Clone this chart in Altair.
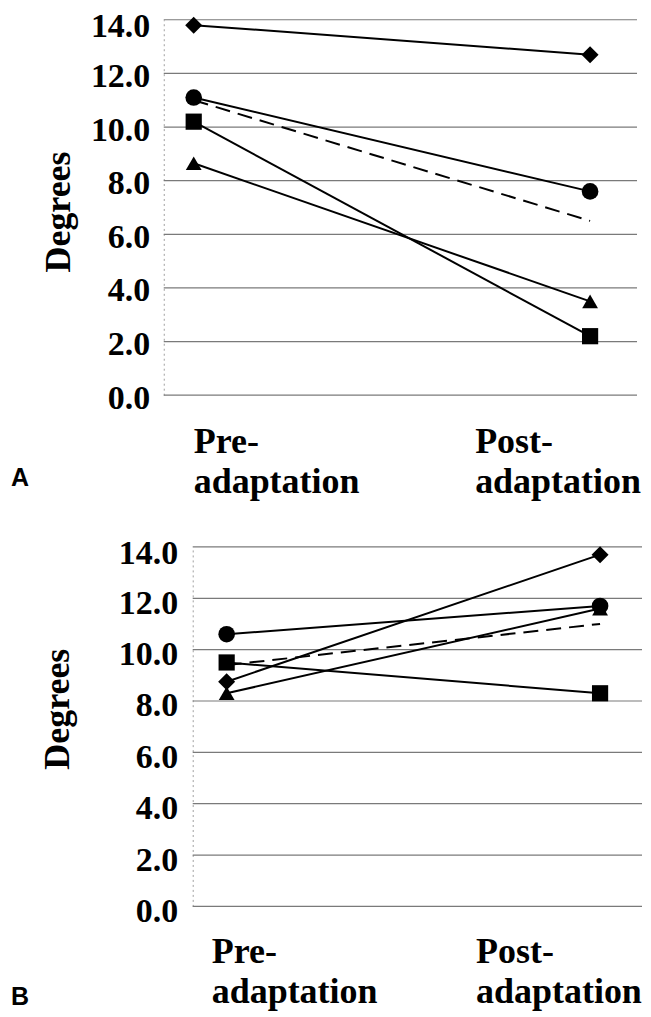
import altair as alt
import pandas as pd

# ---- data ----
series = ["diamond", "circle", "square", "triangle", "mean"]
marker_shapes = ["diamond", "circle", "square", "triangle-up"]
marker_sizes = [290, 250, 272, 300]
phases = [0, 1]  # 0 = pre-adaptation, 1 = post-adaptation
categories = ["Pre-\nadaptation", "Post-\nadaptation"]
y_ticks = [0, 2, 4, 6, 8, 10, 12, 14]

a_pre = [13.8, 11.1, 10.2, 8.65, 11.0]
a_post = [12.7, 7.6, 2.2, 3.5, 6.5]
b_pre = [8.75, 10.6, 9.5, 8.3, 9.4]
b_post = [13.7, 11.7, 8.3, 11.6, 11.0]

# label anchor positions along the x scale (left edge of each category label)
a_label_x = [0.0, 0.71]
b_label_x = [-0.04, 0.668]

SERIF = "Liberation Serif"
SANS = "Liberation Sans"
GRID = "#7a7a7a"


def long_table(pre, post):
    rows = []
    for s, v0, v1 in zip(series, pre, post):
        rows.append({"series": s, "phase": phases[0], "value": v0, "mean": s == "mean"})
        rows.append({"series": s, "phase": phases[1], "value": v1, "mean": s == "mean"})
    return pd.DataFrame(rows)


def panel(pre, post, label_x, letter, width, height, lead, unit_px, axis_shift,
          label_pad, label_off, title_pad, title_y, letter_x, label_y, letter_y):
    df = long_table(pre, post)
    # x domain chosen so that pre/post sit 'lead' px from the left, 'unit_px' apart
    xs = alt.Scale(domain=[-lead / unit_px, (width - lead) / unit_px], nice=False, zero=False)
    ys = alt.Scale(domain=[0, 14], nice=False, zero=True)
    yaxis = alt.Axis(
        values=y_ticks, format=".1f", grid=False, offset=-axis_shift,
        domain=True, domainColor="#a0a0a0", domainDash=[2, 3], domainWidth=1,
        ticks=False, labelFont=SERIF, labelFontWeight="bold", labelFontSize=34,
        labelColor="black", labelPadding=label_pad,
        labelOffset={"condition": {"test": "datum.value == 14", "value": 7}, "value": label_off},
        title="Degrees", titleFont=SERIF, titleFontWeight="bold", titleFontSize=36,
        titleColor="black", titlePadding=title_pad, titleY=title_y,
    )
    base = alt.Chart(df)
    x = alt.X("phase:Q", scale=xs, axis=None)
    y = alt.Y("value:Q", scale=ys, axis=yaxis)

    grid_df = pd.DataFrame({"tick": y_ticks})
    grid = alt.Chart(grid_df).mark_rule(color=GRID, strokeWidth=1.2).encode(
        y=alt.Y("tick:Q", scale=ys, axis=yaxis),
        x=alt.value(axis_shift), x2=alt.value(width),
    )
    solid = base.transform_filter("!datum.mean").mark_line(
        color="black", strokeWidth=2).encode(x=x, y=y, detail="series:N")
    dashed = base.transform_filter("datum.mean").mark_line(
        color="black", strokeWidth=2, strokeDash=[15, 8]).encode(x=x, y=y)
    points = base.transform_filter("!datum.mean").mark_point(
        filled=True, color="black", opacity=1).encode(
        x=x, y=y,
        shape=alt.Shape("series:N", scale=alt.Scale(domain=series[:4], range=marker_shapes),
                        legend=None),
        size=alt.Size("series:N", scale=alt.Scale(domain=series[:4], range=marker_sizes),
                      legend=None),
    )
    lab_df = pd.DataFrame({"pos": label_x, "text": categories})
    labels = alt.Chart(lab_df).mark_text(
        align="left", baseline="alphabetic", font=SERIF, fontWeight="bold",
        fontSize=36, lineHeight=40, color="black", lineBreak="\n",
    ).encode(x=alt.X("pos:Q", scale=xs, axis=None), y=alt.value(label_y), text="text:N")
    let_df = pd.DataFrame({"text": [letter]})
    let_mark = alt.Chart(let_df).mark_text(
        align="left", baseline="alphabetic", font=SANS, fontWeight="bold",
        fontSize=25, color="black",
    ).encode(x=alt.value(letter_x), y=alt.value(letter_y), text="text:N")

    return alt.layer(grid, solid, dashed, points, labels, let_mark).properties(
        width=width, height=height)


panel_a = panel(a_pre, a_post, a_label_x, "A", 474, 376, lead=30, unit_px=397, axis_shift=0,
                label_pad=14, label_off=3, title_pad=13, title_y=192,
                letter_x=-153, label_y=433.5, letter_y=467)
panel_b = panel(b_pre, b_post, b_label_x, "B", 479, 360, lead=63, unit_px=374, axis_shift=29,
                label_pad=15, label_off=5, title_pad=42, title_y=162,
                letter_x=-153, label_y=416.5, letter_y=459)

chart = alt.vconcat(panel_a, panel_b, spacing=37).properties(
    padding={"left": 3, "top": 1, "right": 0, "bottom": 0},
    background="white",
).configure_view(stroke=None).resolve_scale(x="independent", y="independent")

chart.save("out.html", embed_options={"renderer": "svg", "actions": False})
